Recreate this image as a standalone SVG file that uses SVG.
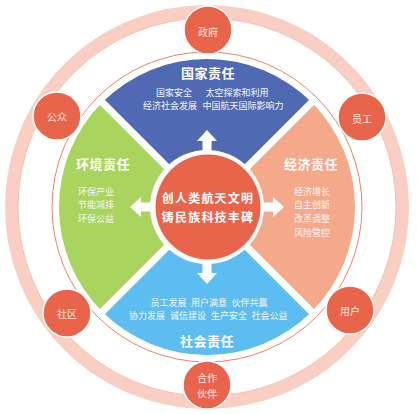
<svg xmlns="http://www.w3.org/2000/svg" width="417" height="414" viewBox="0 0 417 414">
<style>
text{font-family:"Noto Sans CJK SC","Noto Sans",sans-serif;fill:#fff;text-anchor:middle;dominant-baseline:central}
.title{font-size:13px;font-weight:bold;letter-spacing:0.5px}
.ctr{font-size:12px;font-weight:bold;letter-spacing:1.2px}
.body{font-size:9px;fill:#f4f6fb}
.lbl{font-size:10px;fill:#fde8e1}
.node-c{fill:#e8644b;stroke:#fff;stroke-width:1.5}
.arrow{fill:#fff}
</style>
<rect width="417" height="414" fill="#fff"/>
<g id="rings">
<circle cx="207" cy="207" r="195.5" fill="none" stroke="#f8cfc2" stroke-width="13"/>
<circle cx="207" cy="207" r="189" fill="none" stroke="#f2b7a5" stroke-width="0.8"/>
<circle cx="207" cy="207" r="155" fill="none" stroke="#ee8363" stroke-width="1"/>
</g>
<g id="sector-national">
<path d="M207 207 L102.35 102.35 A148 148 0 0 1 311.65 102.35 Z" fill="#4f6ab3"/>
<text class="title" x="208" y="72">国家责任</text>
<text class="body" x="174" y="92">国家安全</text>
<text class="body" x="237" y="92">太空探索和利用</text>
<text class="body" x="170" y="105">经济社会发展</text>
<text class="body" x="243" y="105">中国航天国际影响力</text>
</g>
<g id="sector-economic">
<path d="M207 207 L311.65 102.35 A148 148 0 0 1 311.65 311.65 Z" fill="#f4a98a"/>
<text class="title" x="311" y="163">经济责任</text>
<text class="body" x="312" y="191">经济增长</text>
<text class="body" x="312" y="204">自主创新</text>
<text class="body" x="312" y="218">改革调整</text>
<text class="body" x="312" y="232">风险管控</text>
</g>
<g id="sector-social">
<path d="M207 207 L311.65 311.65 A148 148 0 0 1 102.35 311.65 Z" fill="#5dbdf0"/>
<text class="body" x="168.5" y="302">员工发展</text>
<text class="body" x="209" y="302">用户满意</text>
<text class="body" x="249.5" y="302">伙伴共赢</text>
<text class="body" x="147" y="315">协力发展</text>
<text class="body" x="188" y="315">诚信建设</text>
<text class="body" x="229" y="315">生产安全</text>
<text class="body" x="269.5" y="315">社会公益</text>
<text class="title" x="207" y="340">社会责任</text>
</g>
<g id="sector-environment">
<path d="M207 207 L102.35 311.65 A148 148 0 0 1 102.35 102.35 Z" fill="#a9d45d"/>
<text class="title" x="103" y="163">环境责任</text>
<text class="body" x="96" y="191">环保产业</text>
<text class="body" x="96" y="204">节能减排</text>
<text class="body" x="96" y="218">环保公益</text>
</g>
<g id="gaps">
<line x1="100" y1="100" x2="314" y2="314" stroke="#fff" stroke-width="7"/>
<line x1="314" y1="100" x2="100" y2="314" stroke="#fff" stroke-width="7"/>
<circle cx="207" cy="207" r="57" fill="#fff"/>
</g>
<g id="connectors">
<polygon class="arrow" points="207,130 217,141 211.5,141 211.5,160 202.5,160 202.5,141 197,141"/>
<polygon class="arrow" points="207,130 217,141 211.5,141 211.5,160 202.5,160 202.5,141 197,141" transform="rotate(90 207 207)"/>
<polygon class="arrow" points="207,130 217,141 211.5,141 211.5,160 202.5,160 202.5,141 197,141" transform="rotate(180 207 207)"/>
<polygon class="arrow" points="207,130 217,141 211.5,141 211.5,160 202.5,160 202.5,141 197,141" transform="rotate(270 207 207)"/>
</g>
<g id="center">
<circle cx="208" cy="207" r="52.5" fill="#e8644b"/>
<text class="ctr" x="208" y="197.5">创人类航天文明</text>
<text class="ctr" x="208" y="216.5">铸民族科技丰碑</text>
</g>
<g id="node-government">
<circle class="node-c" cx="208" cy="30" r="24"/>
<text class="lbl" x="208" y="31">政府</text>
</g>
<g id="node-public">
<circle class="node-c" cx="57" cy="116" r="24"/>
<text class="lbl" x="57" y="116">公众</text>
</g>
<g id="node-staff">
<circle class="node-c" cx="362" cy="117" r="24"/>
<text class="lbl" x="362" y="118">员工</text>
</g>
<g id="node-community">
<circle class="node-c" cx="67" cy="313" r="24"/>
<text class="lbl" x="67" y="313">社区</text>
</g>
<g id="node-user">
<circle class="node-c" cx="350" cy="310" r="24"/>
<text class="lbl" x="350" y="310">用户</text>
</g>
<g id="node-partner">
<circle class="node-c" cx="207" cy="385" r="24"/>
<text class="lbl" x="207" y="377.5">合作</text>
<text class="lbl" x="207" y="393">伙伴</text>
</g>
</svg>
